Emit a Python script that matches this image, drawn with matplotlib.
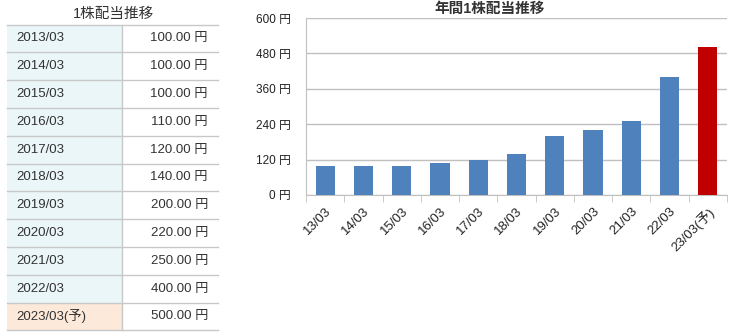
import matplotlib
matplotlib.use("Agg")
import matplotlib.pyplot as plt
from matplotlib.patches import Rectangle

plt.rcParams['font.family'] = ['Liberation Sans', 'Noto Sans CJK JP', 'DejaVu Sans']

years = ["2013/03", "2014/03", "2015/03", "2016/03", "2017/03", "2018/03",
         "2019/03", "2020/03", "2021/03", "2022/03", "2023/03(予)"]
short = ["13/03", "14/03", "15/03", "16/03", "17/03", "18/03",
         "19/03", "20/03", "21/03", "22/03", "23/03(予)"]
dividends = [100, 100, 100, 110, 120, 140, 200, 220, 250, 400, 500]
yticks = [0, 120, 240, 360, 480, 600]

W, H = 733, 334
fig = plt.figure(figsize=(W / 100, H / 100), dpi=100)

# ---- table on the left, drawn in pixel coordinates
tab = fig.add_axes([0, 0, 1, 1])
tab.set_xlim(0, W)
tab.set_ylim(H, 0)
tab.axis('off')

tab.text(113, 14, "1株配当推移", ha='center', va='center', fontsize=10.5, color='#333333')
top = 24.5
rh = 27.8
x0, xm, x1 = 7, 122, 218
for i, (yr, v) in enumerate(zip(years, dividends)):
    y = top + i * rh
    bg = '#fde9d9' if i == len(years) - 1 else '#eaf6f8'
    tab.add_patch(Rectangle((x0, y), xm - x0, rh, facecolor=bg, edgecolor='none'))
    tab.plot([x0, x1], [y + rh, y + rh], color='#c8c8c8', lw=1)
    tab.text(16, y + rh / 2, yr, ha='left', va='center', fontsize=9.5, color='#333333')
    tab.text(208, y + rh / 2, f"{v:.2f} 円", ha='right', va='center', fontsize=9.5, color='#333333')
tab.plot([x0, x1], [top, top], color='#c8c8c8', lw=1)
tab.plot([xm, xm], [top, top + rh * len(years)], color='#c8c8c8', lw=1)

# chart title, centred over chart incl. labels
tab.text(490, 9, "年間1株配当推移", ha='center', va='center', fontsize=10.5,
         fontweight='bold', color='#333333')

# ---- bar chart
ax = fig.add_axes([306 / W, 1 - 195 / H, (727 - 306) / W, (195 - 18) / H])
x = list(range(len(dividends)))
colors = ['#4f81bd'] * (len(dividends) - 1) + ['#c00000']
ax.bar(x, dividends, width=0.5, color=colors, zorder=3)
ax.set_xlim(-0.5, len(dividends) - 0.5)
ax.set_ylim(0, 600)
ax.set_yticks(yticks)
ax.set_yticklabels([f"{t} 円" for t in yticks], fontsize=8.5, color='#222222')
ax.yaxis.grid(True, color='#c0c0c0', lw=1, zorder=0)
ax.tick_params(axis='y', length=0, pad=11)

ax.set_xticks(x)
ax.set_xticklabels(short, rotation=45, ha='right', rotation_mode='anchor',
                   fontsize=9.5, color='#222222')
ax.tick_params(axis='x', length=0, pad=7)
ax.set_xticks([i + 0.5 for i in range(-1, len(dividends))], minor=True)
ax.tick_params(axis='x', which='minor', length=5, color='#c0c0c0', direction='out')

for s in ['top', 'right']:
    ax.spines[s].set_visible(False)
for s in ['left', 'bottom']:
    ax.spines[s].set_color('#c0c0c0')

fig.savefig("out.png", dpi=100)
